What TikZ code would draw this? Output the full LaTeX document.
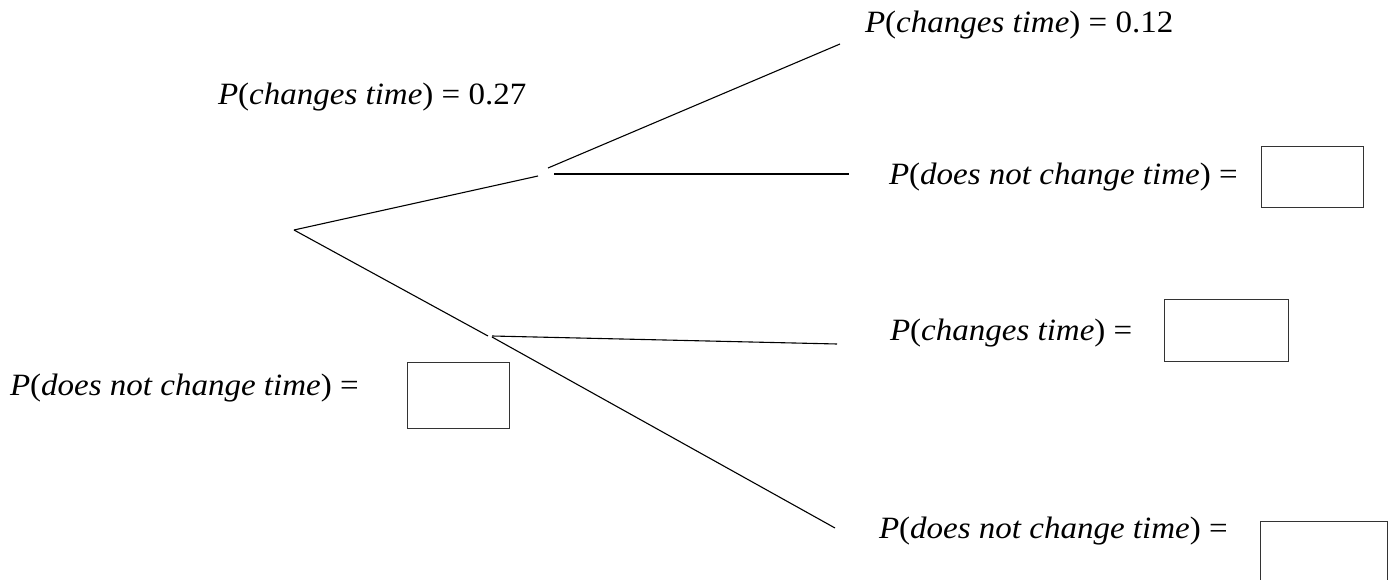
\documentclass[tikz,border=0pt]{standalone}
\usepackage{graphicx}
\usepackage{fontspec}
\setmainfont{Liberation Serif}
\newcommand{\lblfont}{\fontsize{31}{34}\selectfont}
\newcommand{\pl}[1]{\scalebox{1.065}[1]{\lblfont #1}}
\begin{document}
\begin{tikzpicture}[x=1pt,y=-1pt,
  branch/.style={line width=1.1pt, black},
  lbl/.style={anchor=base west, inner sep=0pt, outer sep=0pt},
  ansbox/.style={draw=black!80, line width=1pt, anchor=north west, inner sep=0pt}]
\useasboundingbox (0,0) rectangle (1395,580);
% branch points
\coordinate (root) at (294,230);
\coordinate (aend) at (538,176);
\coordinate (bend) at (488,336);
\coordinate (aa0) at (548,168);
\coordinate (aa1) at (840,44);
\coordinate (ab0) at (554,174);
\coordinate (ab1) at (849,174);
\coordinate (ba0) at (492,336);
\coordinate (ba1) at (837,344);
\coordinate (bb0) at (492,337);
\coordinate (bb1) at (835,528);
\draw[branch] (root) -- (aend);
\draw[branch] (root) -- (bend);
\draw[branch] (aa0) -- (aa1);
\draw[branch] (ab0) -- (ab1);
\draw[branch] (ba0) -- (ba1);
\draw[branch] (bb0) -- (bb1);
% labels
\node[lbl] (t1) at (218,105) {\pl{\textit{P}(\textit{changes time}) = 0.27}};
\node[lbl] (t2) at (865,33) {\pl{\textit{P}(\textit{changes time}) = 0.12}};
\node[lbl] (t3) at (889,185) {\pl{\textit{P}(\textit{does not change time}) =}};
\node[lbl] (t4) at (890,340) {\pl{\textit{P}(\textit{changes time}) =}};
\node[lbl] (t5) at (879,538) {\pl{\textit{P}(\textit{does not change time}) =}};
\node[lbl] (t6) at (10,395) {\pl{\textit{P}(\textit{does not change time}) =}};
% answer boxes
\node[ansbox, minimum width=102pt, minimum height=61pt] (b3) at (1261,146) {};
\node[ansbox, minimum width=124pt, minimum height=62pt] (b4) at (1164,299) {};
\node[ansbox, minimum width=127pt, minimum height=75pt] (b5) at (1260,521) {};
\node[ansbox, minimum width=102pt, minimum height=66pt] (b6) at (407,362) {};
\end{tikzpicture}
\end{document}
